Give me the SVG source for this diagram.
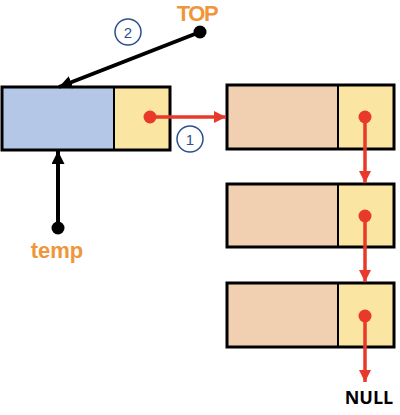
<svg xmlns="http://www.w3.org/2000/svg" width="400" height="415" viewBox="0 0 400 415">
<defs>
<style>
.box{stroke:#000;stroke-width:3}
.div{stroke:#000;stroke-width:2}
.red{stroke:#E8392A;stroke-width:3.5;fill:none}
.blk{stroke:#000;stroke-width:4;fill:none}
.num{fill:#fff;stroke:#2F4F8F;stroke-width:1.5}
.numt{font-family:"Liberation Sans",Arial,sans-serif;font-size:15px;fill:#2F4F8F;text-anchor:middle}
.lbl{font-family:"Liberation Sans",Arial,sans-serif;font-weight:bold;fill:#F0963A;text-anchor:middle}
</style>
<marker id="ra" markerWidth="12" markerHeight="12" refX="12" refY="6" orient="auto" markerUnits="userSpaceOnUse" viewBox="0 0 12 12">
<path d="M0,0 L12,6 L0,12 z" fill="#E8392A"/>
</marker>
<marker id="ba" markerWidth="13" markerHeight="13" refX="13" refY="6.5" orient="auto" markerUnits="userSpaceOnUse" viewBox="0 0 13 13">
<path d="M0,0 L13,6.5 L0,13 z" fill="#000"/>
</marker>
</defs>
<g id="node1">
<rect x="2" y="87" width="112" height="63" fill="#B4C7E7"/>
<rect x="114" y="87" width="56" height="63" fill="#FBE5A2"/>
<line class="div" x1="114" y1="87" x2="114" y2="150"/>
<rect class="box" x="2" y="87" width="168" height="63" fill="none"/>
</g>
<g id="node2">
<rect x="227" y="85" width="111" height="64" fill="#F1CFB1"/>
<rect x="338" y="85" width="56" height="64" fill="#FBE5A2"/>
<line class="div" x1="338" y1="85" x2="338" y2="149"/>
<rect class="box" x="227" y="85" width="167" height="64" fill="none"/>
</g>
<g id="node3">
<rect x="227" y="184" width="111" height="63" fill="#F1CFB1"/>
<rect x="338" y="184" width="56" height="63" fill="#FBE5A2"/>
<line class="div" x1="338" y1="184" x2="338" y2="247"/>
<rect class="box" x="227" y="184" width="167" height="63" fill="none"/>
</g>
<g id="node4">
<rect x="227" y="283" width="111" height="64" fill="#F1CFB1"/>
<rect x="338" y="283" width="56" height="64" fill="#FBE5A2"/>
<line class="div" x1="338" y1="283" x2="338" y2="347"/>
<rect class="box" x="227" y="283" width="167" height="64" fill="none"/>
</g>
<g id="connectors">
<line class="red" x1="150" y1="117" x2="226" y2="117" marker-end="url(#ra)"/>
<circle cx="150" cy="117" r="6.5" fill="#E8392A"/>
<line class="red" x1="365" y1="117" x2="365" y2="183" marker-end="url(#ra)"/>
<circle cx="365" cy="117" r="6.5" fill="#E8392A"/>
<line class="red" x1="365" y1="216" x2="365" y2="282" marker-end="url(#ra)"/>
<circle cx="365" cy="216" r="6.5" fill="#E8392A"/>
<line class="red" x1="365" y1="316" x2="365" y2="382" marker-end="url(#ra)"/>
<circle cx="365" cy="316" r="6.5" fill="#E8392A"/>
<line class="blk" x1="200" y1="32" x2="59" y2="87" marker-end="url(#ba)"/>
<circle cx="200" cy="32" r="6.5" fill="#000"/>
<line class="blk" x1="58" y1="228" x2="58" y2="151" marker-end="url(#ba)"/>
<circle cx="58" cy="228" r="6.5" fill="#000"/>
</g>
<g id="step1">
<circle class="num" cx="190" cy="139" r="13"/>
<text class="numt" x="190" y="145">1</text>
</g>
<g id="step2">
<circle class="num" cx="128" cy="32" r="13"/>
<text class="numt" x="128" y="38">2</text>
</g>
<text class="lbl" x="197" y="21" font-size="22" letter-spacing="-1.5">TOP</text>
<text class="lbl" x="57" y="258" font-size="22">temp</text>
<text x="369" y="404" font-family="'Open Sans','Liberation Sans',sans-serif" font-weight="bold" font-size="18" text-anchor="middle" fill="#000">NULL</text>
</svg>
